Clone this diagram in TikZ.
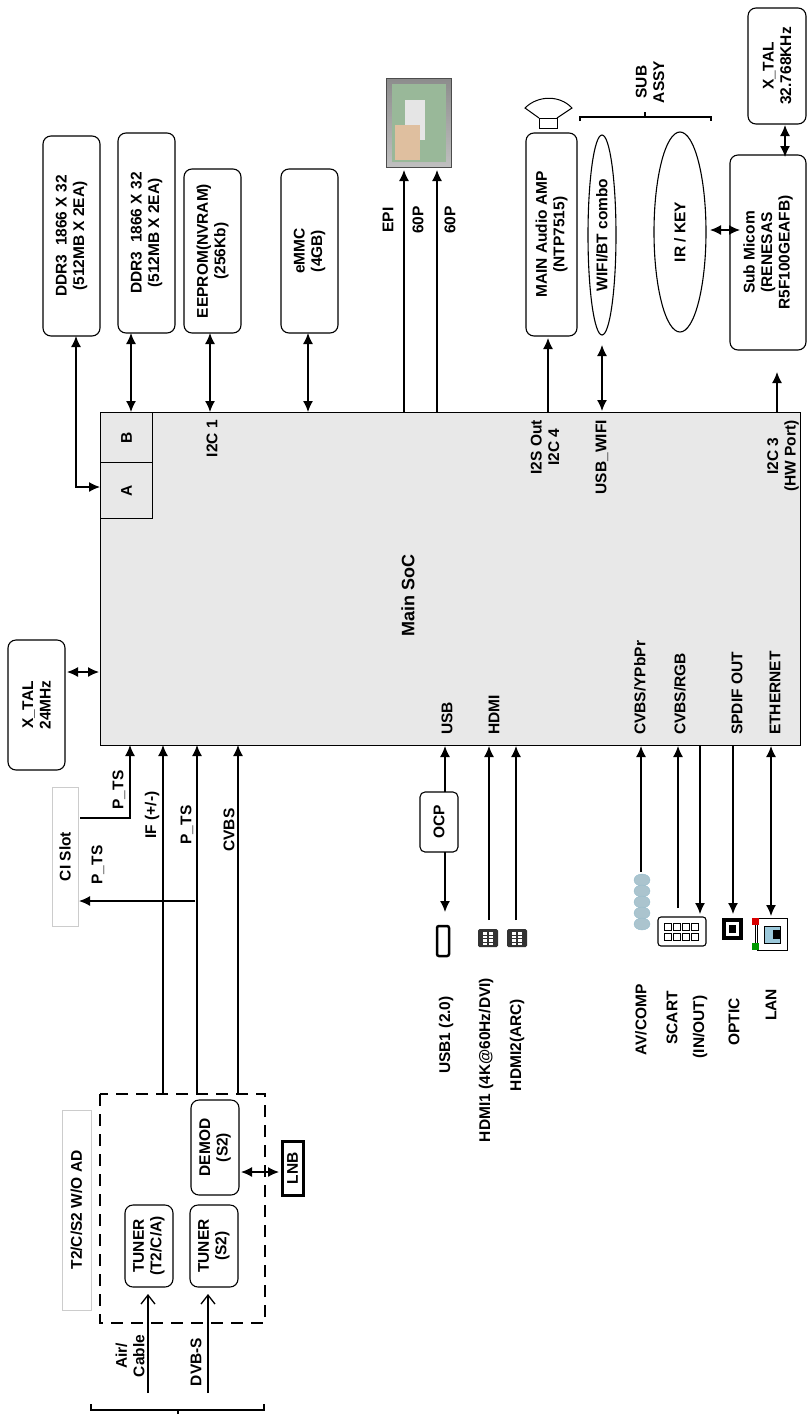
\documentclass[tikz,border=0pt]{standalone}
\usepackage{fontspec}
\setmainfont{Liberation Sans}
\usetikzlibrary{arrows.meta,shapes.geometric}
\begin{document}
\begin{tikzpicture}[x=1pt,y=-1pt,
  every node/.style={font=\fontsize{15.5}{17.5}\selectfont\bfseries, align=center, inner sep=0pt},
  rbox/.style={draw, line width=1.1pt, rounded corners=8pt, rotate=90, fill=white},
  lbl/.style={rotate=90},
  ar/.style={line width=1.3pt, -{Latex[length=11pt,width=10pt]}},
  dar/.style={line width=1.3pt, {Latex[length=11pt,width=10pt]}-{Latex[length=11pt,width=10pt]}},
  oar/.style={line width=1.3pt, -{Straight Barb[length=9pt,width=14pt]}},
  ln/.style={line width=1.3pt}]
\useasboundingbox (0,0) rectangle (807,1414);
% Main SoC
\node[draw, line width=1.3pt, fill=black!9, minimum width=700pt, minimum height=333pt, anchor=north west] (soc) at (100,412) {};
\node[draw, line width=1.3pt, minimum width=52pt, minimum height=50pt, anchor=north west] (bB) at (100,412) {};
\node[draw, line width=1.3pt, minimum width=52pt, minimum height=56pt, anchor=north west] (bA) at (100,462) {};
\node[lbl] at (bB.center) {B};
\node[lbl] at (bA.center) {A};
\node[lbl, font=\fontsize{18}{20}\selectfont\bfseries] (socl) at (408,595) {Main SoC};
\node[lbl, anchor=east] (i2c1) at (212,420) {I2C 1};
\node[lbl, anchor=east] (i2s) at (545,420) {I2S Out\\I2C 4};
\node[lbl, anchor=east] (usbw) at (602,420) {USB\_WIFI};
\node[lbl, anchor=east] (i2c3) at (783,420) {I2C 3\\(HW Port)};
\node[lbl, anchor=west] (lusb) at (447,735) {USB};
\node[lbl, anchor=west] (lhdmi) at (494,735) {HDMI};
\node[lbl, anchor=west] (lcy) at (640,735) {CVBS/YPbPr};
\node[lbl, anchor=west] (lcr) at (680,735) {CVBS/RGB};
\node[lbl, anchor=west] (lsp) at (737,735) {SPDIF OUT};
\node[lbl, anchor=west] (leth) at (775,735) {ETHERNET};
% top boxes
\node[rbox, minimum width=200pt, minimum height=57pt] (ddr1) at (71.5,236) {DDR3 \ 1866 X 32\\(512MB X 2EA)};
\node[rbox, minimum width=200pt, minimum height=57pt] (ddr2) at (146.5,233) {DDR3 \ 1866 X 32\\(512MB X 2EA)};
\node[rbox, minimum width=164pt, minimum height=57pt] (eep) at (212.5,251) {EEPROM(NVRAM)\\(256Kb)};
\node[rbox, minimum width=164pt, minimum height=57pt] (emmc) at (309.5,251) {eMMC\\(4GB)};
\coordinate (ddr1b) at (76,336);
\draw[dar] (ddr1b) |- (bA.west |- 0,487);
\draw[dar] (131,333) -- (131,412);
\draw[dar] (210,333) -- (210,412);
\draw[dar] (308,333) -- (308,412);
% TV
\shade[top color=black!45, bottom color=black!25, draw=black!70] (386,78) rectangle (451,167);
\fill[green!30!black!40] (392,84) rectangle (446,162);
\fill[white!80!gray] (405,100) rectangle (425,140);
\fill[brown!50] (395,125) rectangle (420,160);
\draw[ar] (404,412) -- (404,170);
\draw[ar] (437,412) -- (437,170);
\node[lbl] at (388,220) {EPI};
\node[lbl] at (418,220) {60P};
\node[lbl] at (450,220) {60P};
% audio
\node[rbox, minimum width=203pt, minimum height=51pt] (amp) at (551.5,234.5) {MAIN Audio AMP\\(NTP7515)};
\draw[line width=1pt] (539,118) rectangle (557,128);
\draw[line width=1pt] (539,118) -- (525,108) .. controls (538,95) and (560,95) .. (572,108) -- (557,118);
\draw[ar] (548,412) -- (548,338);
\node[draw, ellipse, line width=1.1pt, minimum width=28pt, minimum height=200pt] (wifi) at (602,235) {};
\node[lbl] at (wifi.center) {WIFI/BT combo};
\draw[dar] (602,345) -- (602,411);
\node[draw, ellipse, line width=1.1pt, minimum width=52pt, minimum height=200pt] (ir) at (680,232) {};
\node[lbl] at (ir.center) {IR / KEY};
\draw[ln] (580,121) -- (580,117) -- (711,117) -- (711,121);
\draw[ln] (645,117) -- (645,112);
\node[lbl] (sub) at (650,82) {SUB\\ASSY};
\node[rbox, minimum width=195pt, minimum height=76pt] (micom) at (768,252.5) {Sub Micom\\(RENESAS\\R5F100GEAFB)};
\draw[dar] (710,230) -- (740,230);
\node[rbox, minimum width=116pt, minimum height=58pt] (xt2) at (777,66) {X\_TAL\\32.768KHz};
\draw[dar] (785,125) -- (785,157);
\draw[ar] (777,412) -- (777,372);
% left
\node[rbox, minimum width=130pt, minimum height=57pt] (xt1) at (36.5,705) {X\_TAL\\24MHz};
\draw[dar] (67,672) -- (99,672);
\node[draw=black!20, line width=1pt, rotate=90, minimum width=139pt, minimum height=26pt] (ci) at (65,856.5) {CI Slot};
\draw[ar] (80,818) -| (130,745);
\node[lbl] at (119,790) {P\_TS};
\draw[ar] (163,1093) -- (163,745);
\node[lbl] at (152,815) {IF (+/-)};
\draw[ar] (197,1093) -- (197,745);
\node[lbl] at (187,825) {P\_TS};
\draw[ar] (195,901) -- (79,901);
\node[lbl] at (98,865) {P\_TS};
\draw[ar] (238,1093) -- (238,745);
\node[lbl] at (229,830) {CVBS};
% tuner block
\draw[line width=2.8pt, dash pattern=on 12pt off 8pt] (100,1094) rectangle (265,1323);
\node[draw=black!20, line width=1pt, rotate=90, minimum width=200pt, minimum height=29pt] (t2l) at (76.5,1210) {T2/C/S2 W/O AD};
\node[rbox, minimum width=82pt, minimum height=48pt] (tun1) at (149,1246) {TUNER\\(T2/C/A)};
\node[rbox, minimum width=82pt, minimum height=48pt] (tun2) at (214,1246) {TUNER\\(S2)};
\node[rbox, minimum width=95pt, minimum height=48pt] (dem) at (215,1147.5) {DEMOD\\(S2)};
\node[draw, line width=3pt, rotate=90, minimum width=54pt, minimum height=21pt] (lnb) at (292.5,1168.5) {LNB};
\draw[dar] (241,1172) -- (279,1172);
\draw[oar] (148,1393) -- (148,1294);
\draw[oar] (208,1393) -- (208,1294);
\node[lbl] at (130,1356) {Air/\\Cable};
\node[lbl] at (196,1362) {DVB-S};
\draw[ln] (91,1404) -- (91,1410) -- (264,1410) -- (264,1404);
\draw[ln] (178,1410) -- (178,1416);
% bottom connectors
\node[rbox, minimum width=60pt, minimum height=38pt, rounded corners=5pt] (ocp) at (439,822) {OCP};
\draw[ar] (445,792) -- (445,746);
\draw[ar] (445,852) -- (445,912);
\draw[line width=2.5pt, rounded corners=2pt] (437,926) rectangle (449,956);
\node[lbl] at (446,1035) {USB1 (2.0)};
\foreach \x in {488,517}{
  \fill[black!80, rounded corners=1.5pt] (\x-10,929) rectangle (\x+10,947);
  \foreach \k in {0,1,2,3}{\fill[white] (\x-5,932+\k*3.5) rectangle (\x-1,934.5+\k*3.5); \fill[white] (\x+1,932+\k*3.5) rectangle (\x+5,934.5+\k*3.5);}
}
\draw[ar] (489,920) -- (489,746);
\draw[ar] (516,920) -- (516,746);
\node[lbl] at (486,1060) {HDMI1 (4K@60Hz/DVI)};
\node[lbl] at (517,1045) {HDMI2(ARC)};
\foreach \k in {0,1,2,3,4}{\fill[cyan!30!gray!60, draw=cyan!40!gray!70] (642,880+\k*11) ellipse (8pt and 6pt);}
\draw[ar] (641,872) -- (641,746);
\node[lbl] at (641,1020) {AV/COMP};
\draw[line width=1.1pt, rounded corners=3pt] (658,917) rectangle (706,946);
\foreach \k in {0,1,2,3}{\draw[line width=0.7pt] (664+\k*9,923) rectangle (671+\k*9,930); \draw[line width=0.7pt] (664+\k*9,933) rectangle (671+\k*9,940);}
\draw[ar] (678,908) -- (678,746);
\draw[ar] (700,746) -- (700,914);
\node[lbl] at (672,1018) {SCART};
\node[lbl] at (700,1027) {(IN/OUT)};
\fill[black] (722,918) rectangle (743,940);
\fill[white] (726,922) rectangle (739,936);
\fill[black] (729,925) rectangle (736,933);
\draw[ar] (733,746) -- (733,914);
\node[lbl] at (734,1022) {OPTIC};
\draw[line width=0.7pt] (757,918) rectangle (787,950);
\fill[cyan!50!gray!60, draw=black] (764,926) rectangle (780,943);
\fill[black] (773,930) rectangle (780,939);
\fill[red!85!black] (752,918) rectangle (759,925);
\fill[green!60!black] (752,943) rectangle (759,950);
\draw[line width=0.7pt] (755,925) -- (755,943);
\draw[dar] (771,746) -- (771,916);
\node[lbl] at (771,1005) {LAN};
\end{tikzpicture}
\end{document}
